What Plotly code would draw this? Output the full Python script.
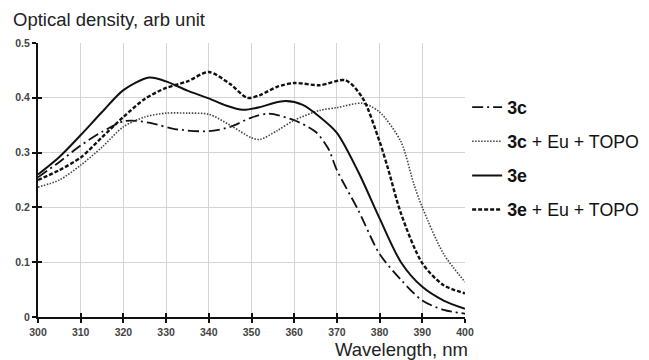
import plotly.graph_objects as go

# ---- data ----
x_3c = [300, 305, 310, 315, 320, 323, 327, 332, 340, 345, 350, 354, 360, 365, 368, 370, 375, 380, 385, 390, 395, 400]
y_3c = [0.255, 0.283, 0.313, 0.338, 0.357, 0.358, 0.353, 0.343, 0.339, 0.347, 0.364, 0.371, 0.359, 0.338, 0.307, 0.268, 0.195, 0.115, 0.068, 0.03, 0.013, 0.006]

x_3c_eu = [300, 305, 310, 315, 320, 325, 330, 335, 340, 345, 350, 352, 356, 360, 366, 370, 376, 380, 385, 388, 390, 395, 400]
y_3c_eu = [0.237, 0.25, 0.277, 0.31, 0.347, 0.365, 0.372, 0.372, 0.37, 0.35, 0.327, 0.324, 0.34, 0.359, 0.377, 0.382, 0.39, 0.374, 0.32, 0.243, 0.2, 0.115, 0.064]

x_3e = [300, 305, 310, 315, 320, 326, 330, 335, 340, 344, 348, 352, 355, 358, 362, 366, 370, 375, 380, 385, 390, 395, 400]
y_3e = [0.26, 0.292, 0.332, 0.374, 0.414, 0.437, 0.43, 0.413, 0.399, 0.386, 0.378, 0.383, 0.39, 0.394, 0.387, 0.365, 0.336, 0.265, 0.18, 0.1, 0.055, 0.03, 0.015]

x_3e_eu = [300, 305, 310, 315, 320, 325, 330, 335, 340, 345, 349, 352, 356, 360, 366, 372, 376, 380, 382, 385, 390, 395, 400]
y_3e_eu = [0.25, 0.268, 0.291, 0.328, 0.365, 0.398, 0.418, 0.43, 0.447, 0.425, 0.4, 0.405, 0.42, 0.427, 0.423, 0.432, 0.4, 0.32, 0.27, 0.189, 0.098, 0.058, 0.043]

series_names = ["<b>3c</b>", "<b>3c</b> + Eu + TOPO", "<b>3e</b>", "<b>3e</b> + Eu + TOPO"]
x_ticks = [300, 310, 320, 330, 340, 350, 360, 370, 380, 390, 400]
y_ticks = [0, 0.1, 0.2, 0.3, 0.4, 0.5]
y_tick_labels = ["0", "0.1", "0.2", "0.3", "0.4", "0.5"]

fig = go.Figure()
styles = [
    dict(color="#111", width=1.8, dash="11px,4px,2px,4px"),
    dict(color="#444", width=1.6, dash="1.5px,1.5px"),
    dict(color="#111", width=2.0, dash="solid"),
    dict(color="#111", width=2.4, dash="4px,2px"),
]
for xs, ys, name, st, grp in zip([x_3c, x_3c_eu, x_3e, x_3e_eu],
                                 [y_3c, y_3c_eu, y_3e, y_3e_eu],
                                 series_names, styles, ["a", "b", "c", "d"]):
    fig.add_trace(go.Scatter(x=xs, y=ys, mode="lines", name=name, legendgroup=grp,
                             line=dict(shape="spline", smoothing=0.8, **st)))

tickfont = dict(family="Liberation Sans, Arial, sans-serif", size=10.5, color="#444", weight="bold")
fig.update_layout(
    width=649, height=360, autosize=False,
    margin=dict(l=30, r=192, t=35, b=51, autoexpand=False),
    paper_bgcolor="white", plot_bgcolor="white",
    font=dict(family="Liberation Sans, Arial, sans-serif", color="#111"),
    xaxis=dict(range=[300, 400], tickvals=x_ticks, showgrid=True, gridcolor="#d4d4d4", gridwidth=1,
               showline=True, linecolor="#111", linewidth=2, ticks="outside", ticklen=4,
               tickwidth=2, tickcolor="#111", tickfont=tickfont, zeroline=False),
    yaxis=dict(range=[0, 0.5], tickvals=y_ticks, ticktext=y_tick_labels, showgrid=True,
               gridcolor="#d4d4d4", gridwidth=1, showline=True, linecolor="#111", linewidth=2,
               ticks="outside", ticklen=4, tickwidth=2, tickcolor="#111", tickfont=tickfont,
               zeroline=False),
    xaxis2=dict(range=[300, 400], overlaying="x", anchor="y2", tickvals=x_ticks, showticklabels=False,
                ticks="inside", ticklen=4, tickwidth=2, tickcolor="#111", showgrid=False,
                showline=False, zeroline=False),
    yaxis2=dict(range=[0, 0.5], overlaying="y", anchor="x2", tickvals=y_ticks, showticklabels=False,
                ticks="inside", ticklen=4, tickwidth=2, tickcolor="#111", showgrid=False,
                showline=False, zeroline=False),
    legend=dict(x=1.005, y=0.832, xanchor="left", yanchor="top", tracegroupgap=8,
                font=dict(size=17.8, color="#111"), bgcolor="rgba(0,0,0,0)", itemwidth=30),
    showlegend=True,
)
fig.add_trace(go.Scatter(x=x_3c[:1], y=y_3c[:1], xaxis="x2", yaxis="y2", mode="lines",
                         showlegend=False, hoverinfo="skip", line=dict(width=0)))

fig.add_annotation(text="Optical density, arb unit", xref="paper", yref="paper",
                   x=-0.0632, y=1.0858, xanchor="left", yanchor="middle", showarrow=False,
                   font=dict(size=18.5, color="#222"))
fig.add_annotation(text="Wavelength, nm", xref="paper", yref="paper",
                   x=0.852, y=-0.12, xanchor="center", yanchor="middle", showarrow=False,
                   font=dict(size=18.5, color="#222"))

fig.write_html("out.html")
